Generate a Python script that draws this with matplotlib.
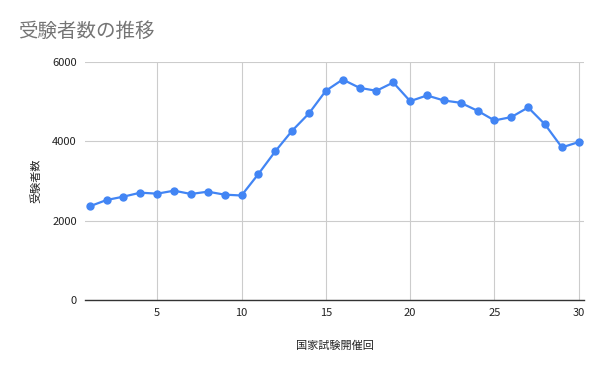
import matplotlib
matplotlib.use('Agg')
import matplotlib.pyplot as plt

plt.rcParams['font.family'] = ['Noto Sans CJK JP', 'DejaVu Sans']

kai = list(range(1, 31))
jukensha = [2360, 2519, 2603, 2703, 2678, 2753, 2670, 2728, 2653, 2632,
            3172, 3741, 4260, 4696, 5265, 5549, 5340, 5265, 5474, 5005,
            5148, 5022, 4963, 4763, 4520, 4604, 4846, 4419, 3842, 3976]
xticks = [5, 10, 15, 20, 25, 30]
yticks = [0, 2000, 4000, 6000]

fig = plt.figure(figsize=(6, 3.71), dpi=100)
ax = fig.add_axes([0.142, 0.191, 0.831, 0.643])

ax.plot(kai, jukensha, color='#4285F4', linewidth=1.6, marker='o',
        markersize=5, zorder=3)

ax.set_xlim(0.73, 30.3)
ax.set_ylim(0, 6000)
ax.set_xticks(xticks)
ax.set_yticks(yticks)
ax.grid(True, color='#cccccc', linewidth=0.8)
ax.set_axisbelow(True)
for s in ['top', 'right', 'left']:
    ax.spines[s].set_visible(False)
ax.spines['bottom'].set_color('#333333')
ax.spines['bottom'].set_linewidth(1.0)
ax.tick_params(length=0, labelsize=8, colors='#222222', pad=6)

ax.set_xlabel('国家試験開催回', fontsize=8, color='#222222', labelpad=16)
ax.set_ylabel('受験者数', fontsize=8, color='#222222', labelpad=8)
fig.text(0.03, 0.915, '受験者数の推移', fontsize=14, color='#757575', va='center')

fig.savefig('out.png', dpi=100, facecolor='white')
